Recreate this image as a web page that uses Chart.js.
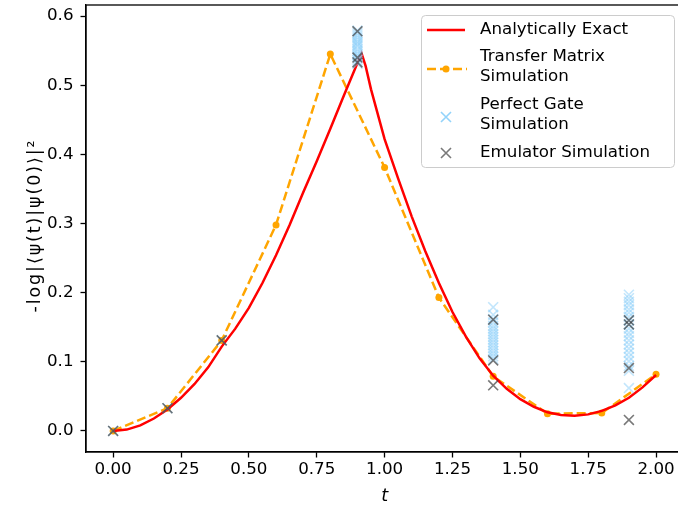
<!DOCTYPE html>
<html lang="en">
  <head>
    <meta charset="UTF-8" />
    <title>Fidelity loss</title>
    <script src="https://cdn.jsdelivr.net/npm/chart.js"></script>
    <style>
      html, body { margin: 0; padding: 0; overflow: hidden; background: #fff; }
      #clip { width: 678px; height: 511px; overflow: hidden; }
      #wrap { position: relative; width: 684px; height: 511px; }
    </style>
  </head>
  <body>
    <div id="clip"><div id="wrap"><canvas id="chart"></canvas></div></div>

    <script>
      // analytically exact curve
      let tExact = [0, 0.05, 0.1, 0.15, 0.2, 0.25, 0.3, 0.35, 0.4, 0.45, 0.5, 0.55, 0.6, 0.65, 0.7, 0.75, 0.8, 0.85, 0.9, 0.915,
        0.93, 0.95, 1.0, 1.05, 1.1, 1.15, 1.2, 1.25, 1.3, 1.35, 1.4, 1.45, 1.5, 1.55, 1.6, 1.65, 1.7, 1.75, 1.8, 1.85, 1.9, 1.95, 2.0];
      let yExact = [0, 0.002, 0.008, 0.018, 0.031, 0.048, 0.068, 0.092, 0.122, 0.148, 0.178, 0.214, 0.254, 0.298, 0.345, 0.39, 0.437, 0.485, 0.532, 0.546,
        0.528, 0.494, 0.422, 0.365, 0.31, 0.26, 0.214, 0.172, 0.136, 0.105, 0.08, 0.061, 0.046, 0.035, 0.027, 0.023, 0.022, 0.024, 0.029, 0.037, 0.048, 0.063, 0.081];

      // transfer matrix simulation
      let tTransfer = [0, 0.2, 0.4, 0.6, 0.8, 1.0, 1.2, 1.4, 1.6, 1.8, 2.0];
      let yTransfer = [0, 0.033, 0.131, 0.298, 0.545, 0.381, 0.193, 0.079, 0.025, 0.026, 0.082];

      // perfect gate simulation
      let tPerfect = [0, 0.2, 0.4,
        0.9, 0.9, 0.9, 0.9, 0.9, 0.9, 0.9, 0.9, 0.9, 0.9, 0.9, 0.9, 0.9, 0.9, 0.9, 0.9, 0.9,
        1.4, 1.4, 1.4, 1.4, 1.4, 1.4, 1.4, 1.4, 1.4, 1.4, 1.4, 1.4, 1.4, 1.4, 1.4, 1.4, 1.4,
        1.9, 1.9, 1.9, 1.9, 1.9, 1.9, 1.9, 1.9, 1.9, 1.9, 1.9, 1.9, 1.9, 1.9, 1.9, 1.9, 1.9, 1.9, 1.9, 1.9, 1.9];
      let yPerfect = [0, 0.033, 0.131,
        0.531, 0.534, 0.537, 0.541, 0.543, 0.546, 0.549, 0.552, 0.556, 0.558, 0.561, 0.563, 0.566, 0.569, 0.572, 0.575, 0.579,
        0.179, 0.168, 0.162, 0.157, 0.152, 0.148, 0.144, 0.14, 0.136, 0.132, 0.128, 0.124, 0.12, 0.116, 0.112, 0.108, 0.104,
        0.197, 0.192, 0.187, 0.182, 0.176, 0.171, 0.165, 0.16, 0.154, 0.148, 0.142, 0.137, 0.131, 0.125, 0.119, 0.113, 0.107, 0.101, 0.094, 0.087, 0.062];

      // emulator simulation
      let tEmulator = [0, 0.2, 0.4, 0.9, 0.9, 0.9, 1.4, 1.4, 1.4, 1.9, 1.9, 1.9, 1.9];
      let yEmulator = [0, 0.033, 0.131, 0.578, 0.54, 0.533, 0.161, 0.102, 0.066, 0.16, 0.154, 0.091, 0.016];

      let xTicks = [0, 0.25, 0.5, 0.75, 1.0, 1.25, 1.5, 1.75, 2.0];
      let yTicks = [0, 0.1, 0.2, 0.3, 0.4, 0.5, 0.6];

      function pts(xs, ys) {
        return xs.map((x, i) => ({ x: x, y: ys[i] }));
      }

      const FONT = 'DejaVu Sans';
      const FS = 16.7;

      // axes frame, y title + legend drawn like matplotlib
      const framePlugin = {
        id: 'frame',
        afterDraw(chart) {
          const ctx = chart.ctx;
          const a = chart.chartArea;
          ctx.save();
          ctx.strokeStyle = '#000';
          ctx.lineWidth = 1.3;
          ctx.strokeRect(a.left, a.top, a.right - a.left, a.bottom - a.top);

          // y axis title
          ctx.save();
          ctx.translate(35, (a.top + a.bottom) / 2 - 3);
          ctx.rotate(-Math.PI / 2);
          ctx.fillStyle = '#000';
          ctx.font = '17.5px "' + FONT + '"';
          ctx.letterSpacing = '1.9px';
          ctx.textAlign = 'center';
          ctx.textBaseline = 'middle';
          ctx.fillText('-log|\u27E8\u03C8(t)|\u03C8(0)\u27E9|\u00B2', 0, 0);
          ctx.restore();

          // legend box
          const bx = 421, by = 15, bw = 253, bh = 152, r = 4;
          ctx.beginPath();
          ctx.roundRect(bx + 0.5, by + 0.5, bw, bh, r);
          ctx.fillStyle = 'rgba(255,255,255,0.8)';
          ctx.fill();
          ctx.lineWidth = 1;
          ctx.strokeStyle = '#cccccc';
          ctx.stroke();

          const hx0 = 427, hx1 = 465, hc = 446;
          // analytically exact
          ctx.strokeStyle = '#ff0000';
          ctx.lineWidth = 2.5;
          ctx.beginPath();
          ctx.moveTo(hx0, 30); ctx.lineTo(hx1, 30);
          ctx.stroke();
          // transfer matrix
          ctx.strokeStyle = 'orange';
          ctx.setLineDash([9, 4]);
          ctx.beginPath();
          ctx.moveTo(hx0, 69); ctx.lineTo(hx1 + 2, 69);
          ctx.stroke();
          ctx.setLineDash([]);
          ctx.fillStyle = 'orange';
          ctx.beginPath();
          ctx.arc(hc, 69, 3.5, 0, Math.PI * 2);
          ctx.fill();
          // crosses
          function cross(cx, cy, col) {
            ctx.strokeStyle = col;
            ctx.lineWidth = 1.6;
            ctx.beginPath();
            ctx.moveTo(cx - 5, cy - 5); ctx.lineTo(cx + 5, cy + 5);
            ctx.moveTo(cx - 5, cy + 5); ctx.lineTo(cx + 5, cy - 5);
            ctx.stroke();
          }
          cross(hc, 117, 'rgba(135,206,250,0.9)');
          cross(hc, 153, 'rgba(64,64,64,0.7)');

          ctx.fillStyle = '#000';
          ctx.font = FS + 'px "' + FONT + '"';
          ctx.textBaseline = 'middle';
          ctx.textAlign = 'left';
          const tx = 480;
          ctx.fillText('Analytically Exact', tx, 30);
          ctx.fillText('Transfer Matrix', tx, 57);
          ctx.fillText('Simulation', tx, 77);
          ctx.fillText('Perfect Gate', tx, 105);
          ctx.fillText('Simulation', tx, 125);
          ctx.fillText('Emulator Simulation', tx, 153);
          ctx.restore();
        },
      };

      var config = {
        type: 'scatter',
        data: {
          datasets: [
            {
              label: 'Analytically Exact',
              data: pts(tExact, yExact),
              showLine: true,
              borderColor: '#ff0000',
              borderWidth: 2.5,
              pointRadius: 0,
              tension: 0,
              order: 3,
            },
            {
              label: 'Transfer Matrix Simulation',
              data: pts(tTransfer, yTransfer),
              showLine: true,
              borderColor: 'orange',
              backgroundColor: 'orange',
              borderWidth: 2.5,
              borderDash: [9, 4],
              pointRadius: 3.5,
              pointBorderWidth: 0,
              pointBackgroundColor: 'orange',
              tension: 0,
              order: 4,
            },
            {
              label: 'Perfect Gate Simulation',
              data: pts(tPerfect, yPerfect),
              pointStyle: 'crossRot',
              pointRadius: 7,
              pointBorderWidth: 1.6,
              borderColor: 'rgba(135,206,250,0.5)',
              backgroundColor: 'rgba(135,206,250,0.5)',
              order: 2,
            },
            {
              label: 'Emulator Simulation',
              data: pts(tEmulator, yEmulator),
              pointStyle: 'crossRot',
              pointRadius: 7,
              pointBorderWidth: 1.6,
              borderColor: 'rgba(64,64,64,0.7)',
              backgroundColor: 'rgba(64,64,64,0.7)',
              order: 1,
            },
          ],
        },
        options: {
          responsive: true,
          maintainAspectRatio: false,
          animation: false,
          layout: { autoPadding: false, padding: { top: 5, right: 0.8, left: 0, bottom: 0 } },
          plugins: { legend: { display: false }, tooltip: { enabled: false } },
          scales: {
            x: {
              type: 'linear',
              min: -0.1,
              max: 2.1,
              afterBuildTicks: (s) => { s.ticks = xTicks.map((v) => ({ value: v })); },
              afterFit: (s) => { s.height = 59; s.paddingLeft = 0; s.paddingRight = 0; },
              ticks: {
                includeBounds: false,
                padding: 2,
                color: '#000',
                font: { family: FONT, size: FS },
                maxRotation: 0,
                callback: (v) => Number(v).toFixed(2),
              },
              grid: { drawOnChartArea: false, drawTicks: true, tickLength: 5.5, tickColor: '#000', tickWidth: 1.3 },
              border: { display: true, color: '#000', width: 1.3 },
              title: {
                display: true,
                text: 't',
                color: '#000',
                font: { family: FONT, size: FS + 1, style: 'italic' },
                padding: { top: 0, bottom: 4 },
              },
            },
            y: {
              type: 'linear',
              min: -0.0304,
              max: 0.616,
              afterBuildTicks: (s) => { s.ticks = yTicks.map((v) => ({ value: v })); },
              afterFit: (s) => { s.width = 86; s.paddingTop = 0; s.paddingBottom = 0; },
              ticks: {
                includeBounds: false,
                padding: 7,
                color: '#000',
                font: { family: FONT, size: FS },
                callback: (v) => Number(v).toFixed(1),
              },
              grid: { drawOnChartArea: false, drawTicks: true, tickLength: 5.5, tickColor: '#000', tickWidth: 1.3 },
              border: { display: true, color: '#000', width: 1.3 },
              title: { display: false },
            },
          },
        },
        plugins: [framePlugin],
      };

      var chart = new Chart(document.getElementById('chart'), config);
    </script>
  </body>
</html>
